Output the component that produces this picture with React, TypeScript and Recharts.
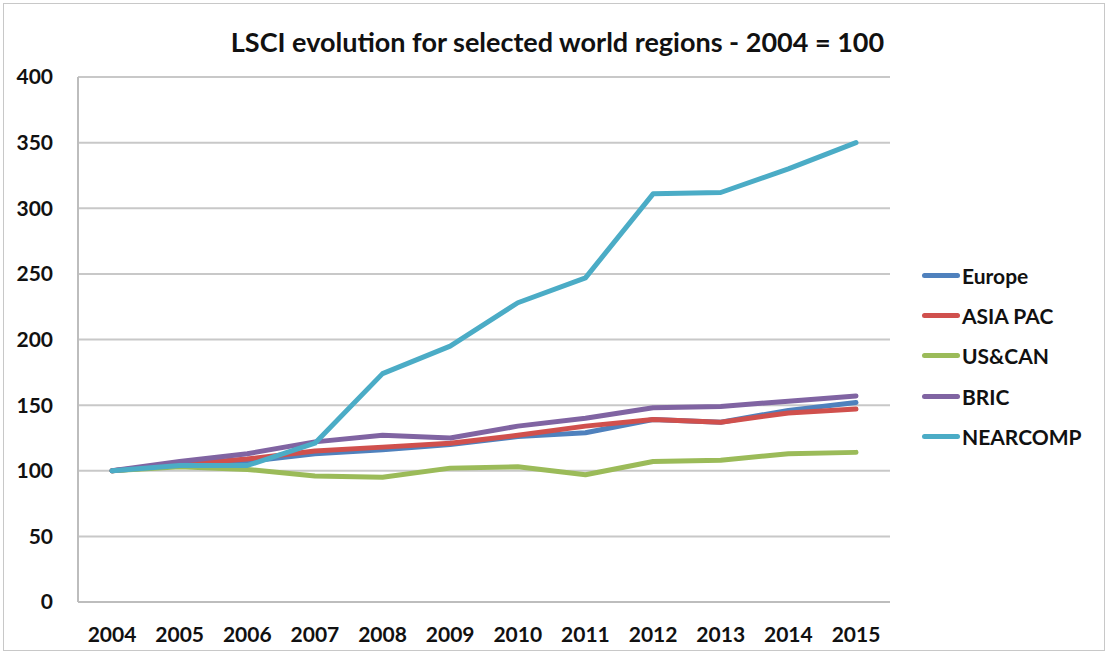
import { LineChart, Line, XAxis, YAxis, CartesianGrid } from 'recharts'

const years = ['2004', '2005', '2006', '2007', '2008', '2009', '2010', '2011', '2012', '2013', '2014', '2015']

const europe = [100, 104, 107, 113, 116, 120, 126, 129, 139, 137, 146, 152]
const asiaPac = [100, 105, 109, 115, 118, 121, 127, 134, 139, 137, 144, 147]
const usCan = [100, 103, 101, 96, 95, 102, 103, 97, 107, 108, 113, 114]
const bric = [100, 107, 113, 122, 127, 125, 134, 140, 148, 149, 153, 157]
const nearcomp = [100, 104, 104, 121, 174, 195, 228, 247, 311, 312, 330, 350]

const yTicks = [0, 50, 100, 150, 200, 250, 300, 350, 400]

const series = [
  { key: 'europe', name: 'Europe', values: europe, color: '#4F81BD' },
  { key: 'asiaPac', name: 'ASIA PAC', values: asiaPac, color: '#D0504D' },
  { key: 'usCan', name: 'US&CAN', values: usCan, color: '#9BBB59' },
  { key: 'bric', name: 'BRIC', values: bric, color: '#8064A2' },
  { key: 'nearcomp', name: 'NEARCOMP', values: nearcomp, color: '#4BACC6' },
]

const chartData = years.map(function (year, i) {
  const row: any = { year: year }
  series.forEach(function (s) {
    row[s.key] = s.values[i]
  })
  return row
})

const font = 'Lato, "Open Sans", sans-serif'

export default function App() {
  return (
    <div style={{
      position: 'absolute',
      left: 0,
      top: 0,
      width: 1109,
      height: 654,
      background: '#fff',
      fontFamily: font,
    }}>
      <div style={{
        position: 'absolute',
        left: 3,
        top: 3,
        width: 1100,
        height: 646,
        border: '1px solid #c8c8c8',
      }} />

      <div style={{
        position: 'absolute',
        left: 0,
        width: 1109,
        top: 25,
        textAlign: 'center',
        fontSize: 27,
        fontWeight: 700,
        color: '#111',
        paddingLeft: 6,
        boxSizing: 'border-box',
      }}>
        LSCI evolution for selected world regions - 2004 = 100
      </div>

      <div style={{ position: 'absolute', left: 0, top: 0 }}>
        <LineChart
          width={1109}
          height={654}
          data={chartData}
          margin={{ top: 77, right: 219, bottom: 0, left: 0 }}
        >
          <CartesianGrid
            vertical={false}
            stroke="#c8c8c8"
            strokeWidth={2}
          />
          <XAxis
            dataKey="year"
            height={52}
            padding={{ left: 34, right: 34 }}
            tickLine={false}
            axisLine={{ stroke: '#bdbdbd', strokeWidth: 2 }}
            tick={{ fontSize: 21, fontWeight: 700, fill: '#111', fontFamily: font }}
            tickMargin={19}
            interval={0}
          />
          <YAxis
            width={78}
            domain={[0, 400]}
            ticks={yTicks}
            tickLine={false}
            axisLine={{ stroke: '#bdbdbd', strokeWidth: 2 }}
            tick={{ fontSize: 21, fontWeight: 700, fill: '#111', fontFamily: font }}
            tickMargin={19}
            interval={0}
          />
          {series.map(function (s) {
            return (
              <Line
                key={s.key}
                type="linear"
                dataKey={s.key}
                name={s.name}
                stroke={s.color}
                strokeWidth={5}
                dot={false}
                activeDot={false}
                strokeLinejoin="round"
                strokeLinecap="round"
                isAnimationActive={false}
              />
            )
          })}
        </LineChart>
      </div>

      <div style={{ position: 'absolute', left: 922, top: 255 }}>
        {series.map(function (s) {
          return (
            <div key={s.key} style={{
              display: 'flex',
              alignItems: 'center',
              height: 40.3,
            }}>
              <div style={{
                width: 38,
                height: 5,
                borderRadius: 3,
                backgroundColor: s.color,
              }} />
              <span style={{
                marginLeft: 2,
                fontSize: 21,
                fontWeight: 700,
                color: '#111',
              }}>
                {s.name}
              </span>
            </div>
          )
        })}
      </div>
    </div>
  )
}
